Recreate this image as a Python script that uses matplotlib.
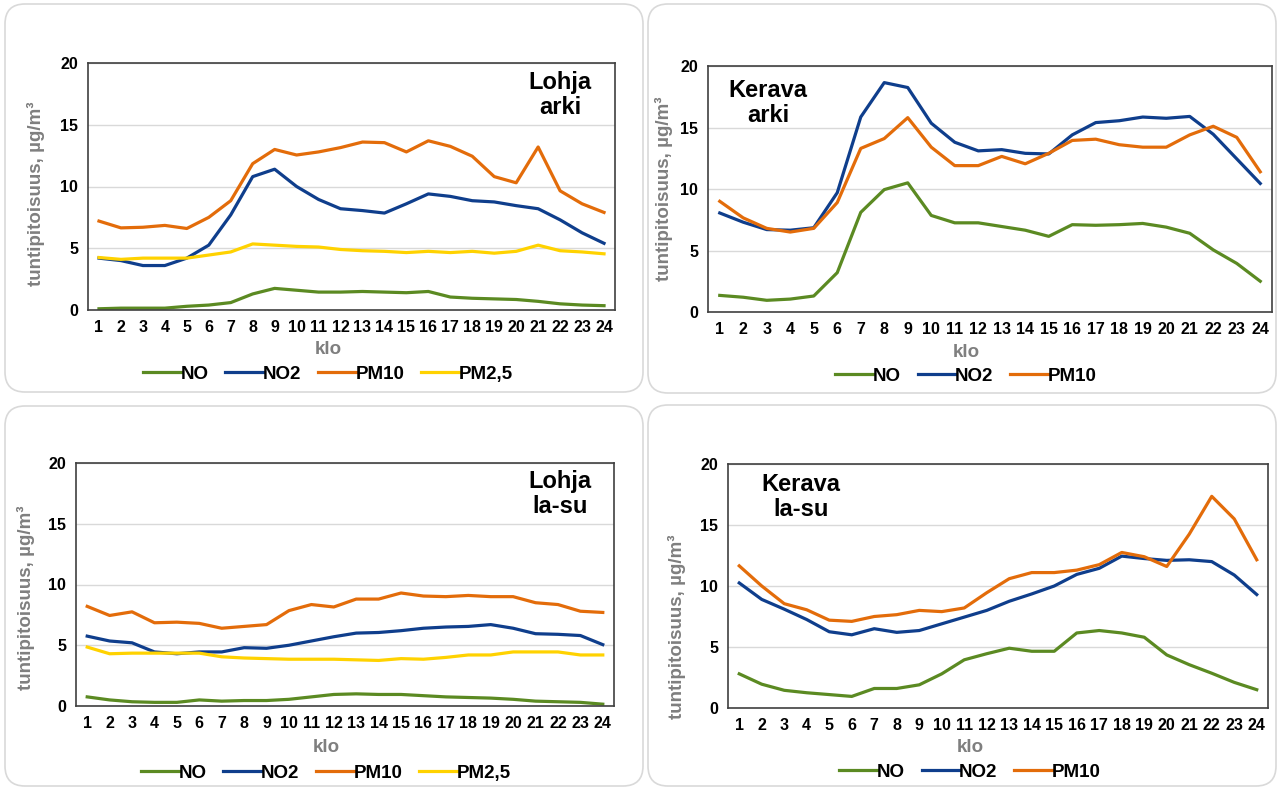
import matplotlib
matplotlib.use("Agg")
import matplotlib.pyplot as plt
from matplotlib import font_manager
from matplotlib.patches import FancyBboxPatch

hours = list(range(1, 25))

# Lohja arki
lohja_arki_no = [0.1, 0.15, 0.15, 0.15, 0.3, 0.4, 0.6, 1.3, 1.75, 1.6, 1.45, 1.45,
                 1.5, 1.45, 1.4, 1.5, 1.05, 0.95, 0.9, 0.85, 0.7, 0.5, 0.4, 0.35]
lohja_arki_no2 = [4.2, 4.0, 3.6, 3.6, 4.2, 5.25, 7.7, 10.8, 11.4, 10.0, 8.95, 8.2,
                  8.05, 7.85, 8.6, 9.4, 9.2, 8.85, 8.75, 8.45, 8.2, 7.3, 6.25, 5.4]
lohja_arki_pm10 = [7.2, 6.65, 6.7, 6.85, 6.6, 7.5, 8.85, 11.85, 13.0, 12.55, 12.8, 13.15,
                   13.6, 13.55, 12.8, 13.7, 13.25, 12.45, 10.8, 10.3, 13.2, 9.65, 8.6, 7.9]
lohja_arki_pm25 = [4.25, 4.1, 4.2, 4.2, 4.2, 4.45, 4.7, 5.35, 5.25, 5.15, 5.1, 4.9,
                   4.8, 4.75, 4.65, 4.75, 4.65, 4.75, 4.6, 4.75, 5.25, 4.8, 4.7, 4.55]

# Kerava arki
kerava_arki_no = [1.35, 1.2, 0.95, 1.05, 1.3, 3.2, 8.1, 9.95, 10.5, 7.85, 7.25, 7.25,
                  6.95, 6.65, 6.15, 7.1, 7.05, 7.1, 7.2, 6.9, 6.4, 5.05, 3.95, 2.5]
kerava_arki_no2 = [8.05, 7.3, 6.7, 6.65, 6.85, 9.7, 15.85, 18.65, 18.25, 15.35, 13.8, 13.1,
                   13.2, 12.9, 12.85, 14.4, 15.4, 15.55, 15.85, 15.75, 15.9, 14.45, 12.45, 10.45]
kerava_arki_pm10 = [9.0, 7.65, 6.8, 6.5, 6.8, 8.9, 13.3, 14.1, 15.8, 13.4, 11.9, 11.9,
                    12.65, 12.05, 12.9, 13.95, 14.05, 13.6, 13.4, 13.4, 14.4, 15.1, 14.2, 11.4]

# Lohja la-su
lohja_lasu_no = [0.75, 0.5, 0.35, 0.3, 0.3, 0.5, 0.4, 0.45, 0.45, 0.55, 0.75, 0.95,
                 1.0, 0.95, 0.95, 0.85, 0.75, 0.7, 0.65, 0.55, 0.4, 0.35, 0.3, 0.15]
lohja_lasu_no2 = [5.75, 5.35, 5.2, 4.45, 4.3, 4.45, 4.45, 4.8, 4.75, 5.0, 5.35, 5.7,
                  6.0, 6.05, 6.2, 6.4, 6.5, 6.55, 6.7, 6.4, 5.95, 5.9, 5.8, 5.05]
lohja_lasu_pm10 = [8.2, 7.45, 7.75, 6.85, 6.9, 6.8, 6.4, 6.55, 6.7, 7.85, 8.35, 8.15,
                   8.8, 8.8, 9.3, 9.05, 9.0, 9.1, 9.0, 9.0, 8.5, 8.35, 7.8, 7.7]
lohja_lasu_pm25 = [4.85, 4.3, 4.35, 4.35, 4.35, 4.35, 4.05, 3.95, 3.9, 3.85, 3.85, 3.85,
                   3.8, 3.75, 3.9, 3.85, 4.0, 4.2, 4.2, 4.45, 4.45, 4.45, 4.2, 4.2]

# Kerava la-su
kerava_lasu_no = [2.8, 1.95, 1.45, 1.25, 1.1, 0.95, 1.6, 1.6, 1.9, 2.8, 3.95, 4.45,
                  4.9, 4.65, 4.65, 6.15, 6.35, 6.15, 5.8, 4.35, 3.55, 2.85, 2.1, 1.5]
kerava_lasu_no2 = [10.25, 8.9, 8.1, 7.25, 6.25, 6.0, 6.5, 6.2, 6.35, 6.9, 7.45, 8.0,
                   8.75, 9.35, 10.0, 10.95, 11.45, 12.45, 12.25, 12.1, 12.15, 12.0, 10.9, 9.3]
kerava_lasu_pm10 = [11.65, 10.0, 8.55, 8.05, 7.2, 7.1, 7.5, 7.65, 8.0, 7.9, 8.2, 9.45,
                    10.6, 11.1, 11.1, 11.3, 11.75, 12.75, 12.4, 11.6, 14.25, 17.35, 15.5, 12.15]

colors = {"NO": "#5b8a22", "NO2": "#0f3e8c", "PM10": "#e36c0a", "PM2,5": "#ffd200"}

names = {f.name for f in font_manager.fontManager.ttflist}
FONT = "Liberation Sans Narrow" if "Liberation Sans Narrow" in names else "Liberation Sans"
plt.rcParams["font.family"] = [FONT, "DejaVu Sans"]
plt.rcParams["font.weight"] = "bold"

W, H = 1280, 788
fig = plt.figure(figsize=(W / 100, H / 100), dpi=100)

# background rounded panels
bg = fig.add_axes([0, 0, 1, 1])
bg.set_xlim(0, W); bg.set_ylim(H, 0); bg.axis("off")
for (x0, y0, x1, y1) in [(5, 4, 643, 392), (648, 4, 1276, 393),
                         (5, 406, 643, 786), (648, 405, 1276, 786)]:
    bg.add_patch(FancyBboxPatch((x0, y0), x1 - x0, y1 - y0,
                                boxstyle="round,pad=0,rounding_size=20",
                                fc="white", ec="#d9d9d9", lw=1.2))

# frame px (left, top, right, bottom), title, title centre, series,
# ylabel centre (x, y), xlabel/legend centre x, xlabel y, legend y
panels = [
    ((88, 63, 615, 310), "Lohja\narki", (560, 95),
     [("NO", lohja_arki_no), ("NO2", lohja_arki_no2),
      ("PM10", lohja_arki_pm10), ("PM2,5", lohja_arki_pm25)],
     (36, 194), 328, 350, 374),
    ((708, 66, 1272, 312), "Kerava\narki", (768, 103),
     [("NO", kerava_arki_no), ("NO2", kerava_arki_no2), ("PM10", kerava_arki_pm10)],
     (664, 189), 966, 352, 376),
    ((76, 463, 614, 706), "Lohja\nla-su", (560, 494),
     [("NO", lohja_lasu_no), ("NO2", lohja_lasu_no2),
      ("PM10", lohja_lasu_pm10), ("PM2,5", lohja_lasu_pm25)],
     (26, 598), 326, 748, 773),
    ((728, 464, 1268, 708), "Kerava\nla-su", (801, 497),
     [("NO", kerava_lasu_no), ("NO2", kerava_lasu_no2), ("PM10", kerava_lasu_pm10)],
     (677, 627), 970, 747, 772),
]

for (l, t, r, b), title, (tx, ty), series, (ylx, yly), cx, kloy, leg_y in panels:
    w, h = r - l, b - t
    ax = fig.add_axes([l / W, 1 - b / H, w / W, h / H])
    for name, vals in series:
        ax.plot(hours, vals, color=colors[name], lw=2.3, label=name,
                solid_joinstyle="round")
    ax.set_xlim(0.5, 24.5)
    ax.set_ylim(0, 20)
    ax.set_yticks([0, 5, 10, 15, 20])
    ax.set_xticks(hours)
    ax.tick_params(length=0, labelsize=11.5, pad=7)
    for lab in ax.get_xticklabels() + ax.get_yticklabels():
        lab.set_fontweight("bold")
    ax.grid(axis="y", color="#d9d9d9", lw=1)
    ax.set_axisbelow(True)
    for sp in ax.spines.values():
        sp.set_color("#404040")
        sp.set_linewidth(1.2)
    ax.set_xlabel("klo", fontsize=13.5, color="#7f7f7f", fontweight="bold")
    ax.xaxis.label.set_va("center")
    ax.xaxis.set_label_coords((cx - l) / w, 1 - (kloy - t) / h)
    ax.set_ylabel("tuntipitoisuus, µg/m³", fontsize=13.5, color="#7f7f7f",
                  fontweight="bold")
    ax.yaxis.label.set_va("center")
    ax.yaxis.set_label_coords((ylx - l) / w, 1 - (yly - t) / h)
    ax.text((tx - l) / w, 1 - (ty - t) / h, title, transform=ax.transAxes,
            ha="center", va="center", fontsize=17, fontweight="bold",
            linespacing=1.1)
    fig.legend(*ax.get_legend_handles_labels(), loc="center",
               bbox_to_anchor=(cx / W, 1 - leg_y / H), ncol=len(series), frameon=False,
               prop={"weight": "bold", "size": 13.5}, handlelength=2.0,
               handletextpad=0.0, columnspacing=0.9)

fig.savefig("out.png", dpi=100)
